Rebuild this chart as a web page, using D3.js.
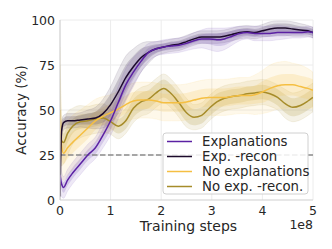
<!DOCTYPE html>
<html>
<head>
<meta charset="utf-8">
<script src="https://cdn.jsdelivr.net/npm/d3@7"></script>
<style>
  body { margin: 0; background: #fff; }
  svg text { font-family: "DejaVu Sans", sans-serif; fill: #262626; }
</style>
</head>
<body>
<div id="chart"></div>
<script>
// training steps (in units of 1e8)
const STEPS = [0, 0.03, 0.07, 0.15, 0.25, 0.4, 0.55, 0.7, 0.85, 1.0, 1.15, 1.3, 1.45,
               1.6, 1.75, 1.9, 2.05, 2.2, 2.35, 2.5, 2.65, 2.8, 2.95, 3.1, 3.25, 3.4,
               3.55, 3.7, 3.85, 4.0, 4.15, 4.3, 4.45, 4.6, 4.75, 4.9, 5.0];

const EXPL_MEAN = [14, 9, 7, 11, 15, 20, 25, 29, 36, 44, 54, 64, 71, 77, 82, 84, 85, 85.5,
                   86, 87, 88.5, 89.5, 89.5, 89, 89.5, 91, 92.5, 93, 92.5, 92.5, 92.5, 93,
                   93, 93, 93, 93.5, 93];
const EXPL_INNER = [4, 3, 3, 3, 3, 3, 3, 3.5, 4, 5, 5, 5, 4, 3, 2.5, 2, 2, 2, 2, 2, 2, 2.5,
                    3, 3.5, 3.5, 3, 2.5, 2, 2, 2, 2, 2, 2, 1.5, 1.5, 1.5, 1.5];
const EXPL_OUTER = [8, 7, 6, 6, 6, 6, 6, 6, 7, 8, 9, 9, 8, 6, 5, 4, 4, 4, 4, 4, 4.5, 5,
                    6, 6.5, 6, 5, 4, 3.5, 4, 4, 4, 4, 3.5, 3, 3, 3, 3];

const RECON_MEAN = [2, 38, 43, 44, 44, 44.5, 45, 45.5, 48, 53, 60, 68, 74, 79, 82, 84, 85,
                    86, 86.5, 88, 89.5, 90.5, 90.5, 90.5, 91, 92, 93, 93.5, 93, 94, 95, 95.5,
                    95.5, 95, 94.5, 94, 93];
const RECON_INNER = [3, 3, 2.5, 2.5, 2.5, 2.5, 3, 3.5, 5, 6, 7, 7, 6, 5, 3.5, 2.5, 2, 2,
                     2, 2, 2, 2, 2, 2, 2, 2, 2, 2, 2, 2, 2.5, 2.5, 2.5, 2.5, 2, 2, 2];
const RECON_OUTER = [5, 5, 4, 4, 4, 4, 5, 6, 8, 10, 12, 12, 10, 8, 6, 4, 3.5, 3.5, 3.5, 3.5,
                     3.5, 3.5, 3.5, 3.5, 3.5, 3.5, 3.5, 3.5, 3.5, 3.5, 4, 4, 4, 4, 3.5, 3, 3];

const NOEXP_MEAN = [50, 30, 26, 29, 32, 36, 40, 44, 46.5, 48.5, 50.5, 53, 55, 55.5, 55.5, 55,
                    54, 54, 54, 54.5, 55.5, 56.5, 57, 57, 57, 57.5, 58, 58, 58.5, 60, 62, 63.5,
                    64, 64, 63, 62, 61];
const NOEXP_INNER = [20, 8, 6, 6, 6, 6, 6, 5, 5, 5, 5, 5, 5, 5, 5, 5, 5, 5, 5, 5, 5, 5, 5,
                     5, 5, 5, 5, 5, 5, 6, 6, 6, 6, 6, 6, 6, 6];
const NOEXP_OUTER = [35, 18, 15, 15, 15, 14, 13, 12, 11, 10, 10, 10, 10, 10, 10, 10, 10, 10,
                     10, 10, 10, 10, 10, 10, 10, 10, 10, 10, 11, 12, 13, 13, 13, 12, 12, 11, 10];

const NOREC_MEAN = [50, 33, 32, 37, 41, 43.5, 44, 45, 45.5, 43.5, 41, 44, 51, 54.5, 56,
                    59.5, 62, 59, 54, 48.5, 46, 47, 51, 54.5, 56.5, 57.5, 58, 59, 59.5, 60,
                    59, 57, 53.5, 51.5, 52.5, 55, 57];
const NOREC_INNER = [10, 6, 5, 5, 4, 4, 4, 4, 4, 4, 4, 4.5, 5, 5, 5, 5, 5, 5, 5, 5, 4.5,
                     4.5, 4.5, 4.5, 4, 4, 4, 4, 4, 4, 4, 4.5, 5, 5, 5, 5, 5];
const NOREC_OUTER = [25, 14, 12, 12, 10, 9, 8, 8, 8, 7, 7, 7, 8, 8, 8, 8, 8, 8, 8, 8, 7,
                     7, 7, 7, 7, 7, 7, 7, 7, 7, 7, 7, 8, 8, 8, 8, 8];

const LABELS = ["Explanations", "Exp. -recon", "No explanations", "No exp. -recon."];
const COLOURS = ["#5b21a3", "#1c0a2b", "#f5bf42", "#a68c2a"];
const BAND_COLOURS = ["#7a55b8", "#4a3a5c", "#f5c85a", "#b09a45"];
const X_TICKS = [0, 1, 2, 3, 4, 5];
const Y_TICKS = [0, 25, 50, 75, 100];
const CHANCE = 25;

const series = [
  {mean: EXPL_MEAN, inner: EXPL_INNER, outer: EXPL_OUTER},
  {mean: RECON_MEAN, inner: RECON_INNER, outer: RECON_OUTER},
  {mean: NOEXP_MEAN, inner: NOEXP_INNER, outer: NOEXP_OUTER},
  {mean: NOREC_MEAN, inner: NOREC_INNER, outer: NOREC_OUTER}
];

var margin = {top: 20, right: 19, bottom: 49, left: 60};
var width = 332 - margin.left - margin.right;
var height = 249 - margin.top - margin.bottom;

var svg = d3.select("#chart")
  .append("svg")
    .attr("width", 332)
    .attr("height", 249)
  .append("g")
    .attr("transform", "translate(" + margin.left + "," + margin.top + ")");

var x = d3.scaleLinear().domain([0, 5]).range([0, width]);
var y = d3.scaleLinear().domain([0, 100]).range([height, 0]);

svg.append("clipPath").attr("id", "plot-clip")
  .append("rect").attr("width", width).attr("height", height);

// grid
svg.append("g").selectAll("line").data(X_TICKS.slice(1)).enter().append("line")
  .attr("x1", d => x(d)).attr("x2", d => x(d))
  .attr("y1", 0).attr("y2", height)
  .attr("stroke", "#ececec").attr("stroke-width", 1);
svg.append("g").selectAll("line").data(Y_TICKS.slice(1)).enter().append("line")
  .attr("x1", 0).attr("x2", width)
  .attr("y1", d => y(d)).attr("y2", d => y(d))
  .attr("stroke", "#ececec").attr("stroke-width", 1);

var plot = svg.append("g").attr("clip-path", "url(#plot-clip)");

function band(s, key) {
  return d3.area()
    .x((d, i) => x(STEPS[i]))
    .y0((d, i) => y(s.mean[i] - s[key][i]))
    .y1((d, i) => y(s.mean[i] + s[key][i]))
    .curve(d3.curveMonotoneX)(STEPS);
}

var line = d3.line()
  .x((d, i) => x(STEPS[i]))
  .y(d => y(d))
  .curve(d3.curveMonotoneX);

// bands, drawn back to front
[3, 2, 1, 0].forEach(function(k) {
  var s = series[k];
  plot.append("path").attr("d", band(s, "outer"))
    .attr("fill", BAND_COLOURS[k]).attr("fill-opacity", 0.13)
    .attr("stroke", BAND_COLOURS[k]).attr("stroke-opacity", 0.2).attr("stroke-width", 0.6);
  plot.append("path").attr("d", band(s, "inner"))
    .attr("fill", BAND_COLOURS[k]).attr("fill-opacity", 0.22);
});

// dashed chance line
plot.append("line")
  .attr("x1", x(0)).attr("x2", x(5))
  .attr("y1", y(CHANCE)).attr("y2", y(CHANCE))
  .attr("stroke", "#8c8c8c").attr("stroke-width", 1.5)
  .attr("stroke-dasharray", "5.5,2.5");

[3, 2, 1, 0].forEach(function(k) {
  plot.append("path").attr("d", line(series[k].mean))
    .attr("fill", "none").attr("stroke", COLOURS[k]).attr("stroke-width", 1.5);
});

// spines
svg.append("line").attr("x1", 0).attr("x2", 0).attr("y1", 0).attr("y2", height)
  .attr("stroke", "#cfcfcf").attr("stroke-width", 1.2);
svg.append("line").attr("x1", 0).attr("x2", width).attr("y1", height).attr("y2", height)
  .attr("stroke", "#cfcfcf").attr("stroke-width", 1.2);

// tick labels
svg.append("g").selectAll("text").data(X_TICKS).enter().append("text")
  .attr("x", d => x(d)).attr("y", height + 15)
  .attr("text-anchor", "middle").attr("font-size", "12.5px")
  .text(d => d);
svg.append("g").selectAll("text").data(Y_TICKS).enter().append("text")
  .attr("x", -5).attr("y", d => y(d) + 4.5)
  .attr("text-anchor", "end").attr("font-size", "12.5px")
  .text(d => d);

svg.append("text")
  .attr("x", width / 2 + 2).attr("y", height + 31)
  .attr("text-anchor", "middle").attr("font-size", "14px")
  .text("Training steps");
svg.append("text")
  .attr("x", width).attr("y", height + 29)
  .attr("text-anchor", "end").attr("font-size", "12.5px")
  .text("1e8");
svg.append("text")
  .attr("transform", "translate(" + (-34) + "," + (height / 2) + ") rotate(-90)")
  .attr("text-anchor", "middle").attr("font-size", "13.5px")
  .text("Accuracy (%)");

// legend
var legend = svg.append("g").attr("transform", "translate(103,113)");
legend.append("rect")
  .attr("width", 145).attr("height", 61).attr("rx", 3)
  .attr("fill", "#fff").attr("fill-opacity", 0.85)
  .attr("stroke", "#d0d0d0").attr("stroke-width", 1);
LABELS.forEach(function(name, i) {
  var ly = 8.5 + i * 15;
  legend.append("line")
    .attr("x1", 4).attr("x2", 29).attr("y1", ly).attr("y2", ly)
    .attr("stroke", COLOURS[i]).attr("stroke-width", 1.5);
  legend.append("text")
    .attr("x", 39).attr("y", ly + 4.7)
    .attr("font-size", "13.3px")
    .text(name);
});
</script>
</body>
</html>
